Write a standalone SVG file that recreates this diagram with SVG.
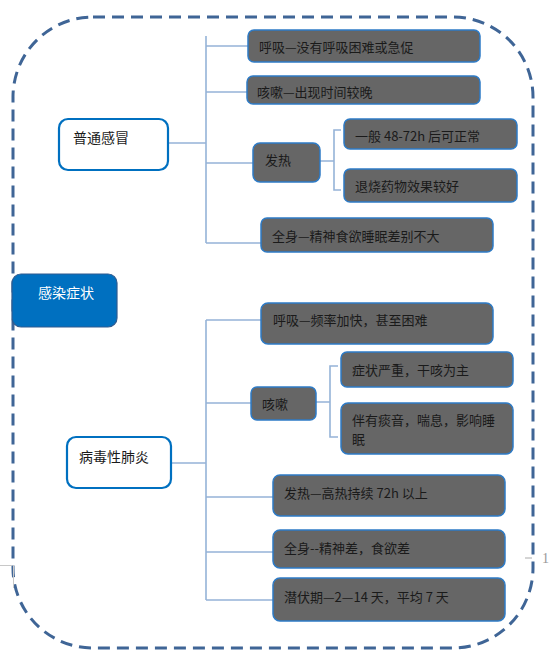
<svg xmlns="http://www.w3.org/2000/svg" width="554" height="661" viewBox="0 0 554 661">
<style>
.frame{fill:none;stroke:#3F6596;stroke-width:3;stroke-dasharray:12 7}
.cn{font-family:"Noto Sans CJK SC","Noto Sans",sans-serif;font-size:13px;fill:#1a1a1a;dominant-baseline:central}
.big{font-size:14px}
.white{fill:#ffffff}
.gray rect{fill:#666666;stroke:#2E7BC6;stroke-width:1.5}
.outline rect{fill:#ffffff;stroke:#0070C0;stroke-width:2.2}
.conn{fill:none;stroke:#95B3D7;stroke-width:1.6}
.mark{stroke:#c8c8c8;stroke-width:1;fill:none}
</style>
<rect class="frame" x="13" y="17" width="520" height="631" rx="80" ry="80"/>
<path class="mark" d="M0 565.5H12 M13.5 565V588"/>
<g id="pagemark">
<line x1="525" y1="558" x2="532" y2="558" stroke="#aaaaaa" stroke-width="1"/>
<text x="542" y="563" font-family="Liberation Serif, serif" font-size="14" fill="#999999">1</text>
</g>
<g id="connectors">
<path class="conn" d="M168 143H206 M206 36V243 M206 46H248 M206 92H247 M206 163H253 M206 243H261"/>
<path class="conn" d="M320 161H334 M341 130H334V190H341"/>
<path class="conn" d="M171 463H206 M206 320V600 M206 320H261 M206 403H251 M206 497H273 M206 552H273 M206 600H273"/>
<path class="conn" d="M316 402H330 M338 366H330V437H338"/>
</g>
<g id="root">
<rect x="12" y="274" width="105" height="53" rx="9" fill="#0070C0" stroke="#2F5B8F" stroke-width="1.2"/>
<text class="cn big white" x="38" y="292">感染症状</text>
</g>
<g id="n-cold" class="outline">
<rect x="59" y="119" width="109" height="51" rx="9"/>
<text class="cn big" x="73" y="137">普通感冒</text>
</g>
<g id="n-pneu" class="outline">
<rect x="67" y="437" width="104" height="51" rx="9"/>
<text class="cn big" x="79" y="456">病毒性肺炎</text>
</g>
<g id="c1" class="gray">
<rect x="248" y="30" width="232" height="32" rx="6"/>
<text class="cn" x="259" y="46">呼吸—没有呼吸困难或急促</text>
</g>
<g id="c2" class="gray">
<rect x="247" y="76" width="233" height="28" rx="6"/>
<text class="cn" x="257" y="91">咳嗽—出现时间较晚</text>
</g>
<g id="c3" class="gray">
<rect x="253" y="143" width="67" height="39" rx="7"/>
<text class="cn" x="265" y="159">发热</text>
</g>
<g id="c3a" class="gray">
<rect x="344" y="119" width="173" height="30" rx="6"/>
<text class="cn" x="355" y="135">一般 48-72h 后可正常</text>
</g>
<g id="c3b" class="gray">
<rect x="344" y="169" width="173" height="33" rx="6"/>
<text class="cn" x="355" y="185">退烧药物效果较好</text>
</g>
<g id="c4" class="gray">
<rect x="261" y="218" width="232" height="34" rx="6"/>
<text class="cn" x="272" y="235">全身—精神食欲睡眠差别不大</text>
</g>
<g id="p1" class="gray">
<rect x="261" y="303" width="232" height="41" rx="7"/>
<text class="cn" x="273" y="319">呼吸—频率加快，甚至困难</text>
</g>
<g id="p2" class="gray">
<rect x="251" y="387" width="65" height="33" rx="6"/>
<text class="cn" x="262" y="403">咳嗽</text>
</g>
<g id="p2a" class="gray">
<rect x="341" y="352" width="172" height="35" rx="6"/>
<text class="cn" x="352" y="369">症状严重，干咳为主</text>
</g>
<g id="p2b" class="gray">
<rect x="341" y="403" width="172" height="51" rx="7"/>
<text class="cn" x="352" y="419">伴有痰音，喘息，影响睡</text>
<text class="cn" x="352" y="438">眠</text>
</g>
<g id="p3" class="gray">
<rect x="273" y="475" width="232" height="41" rx="7"/>
<text class="cn" x="284" y="492">发热—高热持续 72h 以上</text>
</g>
<g id="p4" class="gray">
<rect x="273" y="530" width="232" height="38" rx="7"/>
<text class="cn" x="284" y="547">全身--精神差，食欲差</text>
</g>
<g id="p5" class="gray">
<rect x="273" y="578" width="232" height="43" rx="7"/>
<text class="cn" x="284" y="596">潜伏期—2—14 天，平均 7 天</text>
</g>
</svg>
